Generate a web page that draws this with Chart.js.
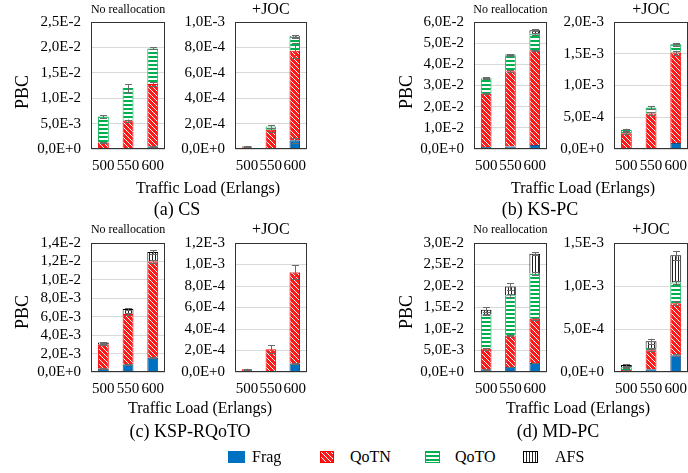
<!DOCTYPE html>
<html>
<head>
<meta charset="utf-8">
<script src="https://cdn.jsdelivr.net/npm/chart.js@4.4.0/dist/chart.umd.min.js"></script>
<style>
  html, body { margin: 0; padding: 0; background: #fff; }
  body { position: relative; width: 688px; height: 473px; overflow: hidden;
         font-family: 'Liberation Serif', 'Times New Roman', serif; color: #000; }
  .pc-box { position: absolute; }
  .pc-txt { position: absolute; white-space: nowrap; transform: translate(-50%, -50%); line-height: 1; }
  .pc-ylab { position: absolute; white-space: nowrap; font-size: 18px; line-height: 1;
             transform: translate(-50%, -50%) rotate(-90deg); }
  .pc-leg { position: absolute; white-space: nowrap; font-size: 16px; line-height: 1; transform: translateY(-50%); }
  .pc-sw { position: absolute; }
</style>
</head>
<body>
<script>
(function () {
  'use strict';

  // ── Categories ──
  var CATEGORIES = ['500', '550', '600'];

  // ── (a) CS ──
  var csNrFrag  = [0.00003, 0.0001, 0.0005];
  var csNrQoTN  = [0.00125, 0.0055, 0.0123];
  var csNrQoTO  = [0.0051, 0.0064, 0.0070];
  var csNrAFS   = [0, 0, 0];
  var csJocFrag = [0, 0.000003, 0.000068];
  var csJocQoTN = [0.000013, 0.000148, 0.000706];
  var csJocQoTO = [0.000009, 0.000026, 0.00011];
  var csJocAFS  = [0, 0, 0.000006];

  // ── (b) KS-PC ──
  var ksNrFrag  = [0.0009, 0.0012, 0.0019];
  var ksNrQoTN  = [0.0252, 0.0355, 0.0447];
  var ksNrQoTO  = [0.0072, 0.0076, 0.0078];
  var ksNrAFS   = [0.0003, 0.0003, 0.0017];
  var ksJocFrag = [0.000003, 0.000008, 0.000093];
  var ksJocQoTN = [0.000246, 0.000552, 0.001425];
  var ksJocQoTO = [0.000051, 0.000093, 0.00013];
  var ksJocAFS  = [0, 0, 0.000005];

  // ── (c) KSP-RQoTO ──
  var rqNrFrag  = [0.00036, 0.00084, 0.00156];
  var rqNrQoTN  = [0.00266, 0.00545, 0.01044];
  var rqNrQoTO  = [0, 0, 0];
  var rqNrAFS   = [0.00018, 0.00055, 0.00102];
  var rqJocFrag = [0, 0.000003, 0.000078];
  var rqJocQoTN = [0.000025, 0.000209, 0.000848];
  var rqJocQoTO = [0, 0, 0];
  var rqJocAFS  = [0, 0, 0.000004];

  // ── (d) MD-PC ──
  var mdNrFrag  = [0.00062, 0.00116, 0.0021];
  var mdNrQoTN  = [0.00478, 0.00734, 0.0103];
  var mdNrQoTO  = [0.008, 0.00933, 0.01047];
  var mdNrAFS   = [0.0011, 0.00207, 0.00463];
  var mdJocFrag = [0.000005, 0.000031, 0.000194];
  var mdJocQoTN = [0.000018, 0.000221, 0.000606];
  var mdJocQoTO = [0.000032, 0.000027, 0.00024];
  var mdJocAFS  = [0.000025, 0.000078, 0.000317];

  // ── Error bars (half-width, at top of each segment) ──
  var csNrErr  = [[0, 0, 0.0001], [0.0001, 0.0002, 0.0004], [0.0003, 0.0008, 0.0002], [0, 0, 0]];
  var csJocErr = [[0, 0, 0.00002], [0.000002, 0.000015, 0.00006], [0.000002, 0.00001, 0.00001], [0, 0, 0.000005]];
  var ksNrErr  = [[0, 0, 0], [0.0003, 0.0004, 0.0004], [0.0003, 0.0004, 0.0004], [0.0002, 0.0002, 0.0004]];
  var ksJocErr = [[0, 0, 0], [0.00002, 0.00002, 0.00003], [0.00002, 0.00002, 0.00002], [0, 0, 0.000005]];
  var rqNrErr  = [[0.00003, 0.00005, 0.00008], [0.00005, 0.0001, 0.00015], [0, 0, 0], [0.00005, 0.0001, 0.0002]];
  var rqJocErr = [[0, 0, 0.000005], [0.000005, 0.000035, 0.000065], [0, 0, 0], [0, 0, 0]];
  var mdNrErr  = [[0.0001, 0.0001, 0.0001], [0.0002, 0.0002, 0.0002], [0.0002, 0.0003, 0.0004], [0.0005, 0.0008, 0.0004]];
  var mdJocErr = [[0, 0, 0.00001], [0.000005, 0.00001, 0.00002], [0.000005, 0.000005, 0.00002], [0.00001, 0.00003, 0.00005]];

  // ── Series styling ──
  var SERIES = ['Frag', 'QoTN', 'QoTO', 'AFS'];
  var BORDERS = ['#1f4e79', '#ff0000', '#00b050', '#000000'];
  var FONT = "'Liberation Serif', 'Times New Roman', serif";

  function makePattern(kind) {
    var c = document.createElement('canvas');
    var x = c.getContext('2d');
    if (kind === 'Frag') {
      c.width = c.height = 4;
      x.fillStyle = '#0070c0';
      x.fillRect(0, 0, 4, 4);
    } else if (kind === 'QoTN') {
      c.width = c.height = 5;
      x.fillStyle = '#ff1a1a';
      x.fillRect(0, 0, 5, 5);
      x.strokeStyle = '#ffffff';
      x.lineWidth = 1;
      for (var k = -5; k <= 5; k += 5) {
        x.beginPath(); x.moveTo(k, 0); x.lineTo(k + 5, 5); x.stroke();
      }
    } else if (kind === 'QoTO') {
      c.width = c.height = 4;
      x.fillStyle = '#ffffff';
      x.fillRect(0, 0, 4, 4);
      x.fillStyle = '#00b050';
      x.fillRect(0, 0, 4, 2);
    } else {
      c.width = c.height = 3;
      x.fillStyle = '#ffffff';
      x.fillRect(0, 0, 3, 3);
      x.fillStyle = '#222222';
      x.fillRect(0, 0, 1, 3);
    }
    return x.createPattern(c, 'repeat');
  }

  var PATTERNS = SERIES.map(makePattern);

  // Excel-style scientific label, e.g. 2,5E-2
  function sci(v) {
    if (Math.abs(v) < 1e-12) return '0,0E+0';
    var e = Math.floor(Math.log10(v) + 1e-6);
    var m = v / Math.pow(10, e);
    return m.toFixed(1).replace('.', ',') + 'E' + (e < 0 ? '-' : '+') + Math.abs(e);
  }

  // ── Plugins ──
  var framePlugin = {
    id: 'pcFrame',
    afterDatasetsDraw: function (chart) {
      var a = chart.chartArea, c = chart.ctx;
      c.save();
      c.strokeStyle = '#333333';
      c.lineWidth = 1;
      c.strokeRect(Math.round(a.left) + 0.5, Math.round(a.top) + 0.5,
        Math.round(a.right - a.left) - 1, Math.round(a.bottom - a.top) - 1);
      c.restore();
    }
  };

  var titlePlugin = {
    id: 'pcTitle',
    afterDraw: function (chart, args, opts) {
      var a = chart.chartArea, c = chart.ctx;
      c.save();
      c.fillStyle = '#000';
      c.font = opts.size + 'px ' + FONT;
      c.textAlign = 'center';
      c.textBaseline = 'middle';
      c.fillText(opts.text, (a.left + a.right) / 2, a.top - opts.offset);
      c.restore();
    }
  };

  var errorPlugin = {
    id: 'pcErrors',
    afterDatasetsDraw: function (chart, args, opts) {
      var errs = opts.errors || [];
      var ys = chart.scales.y, c = chart.ctx;
      c.save();
      c.strokeStyle = '#6b6b6b';
      c.lineWidth = 1;
      for (var d = 0; d < chart.data.datasets.length; d++) {
        var meta = chart.getDatasetMeta(d);
        for (var j = 0; j < CATEGORIES.length; j++) {
          var err = errs[d] ? errs[d][j] : 0;
          if (!err) continue;
          var top = 0;
          for (var k = 0; k <= d; k++) top += chart.data.datasets[k].data[j] || 0;
          var x = Math.round(meta.data[j].x) + 0.5;
          var y1 = ys.getPixelForValue(top + err);
          var y2 = ys.getPixelForValue(Math.max(0, top - err));
          c.beginPath();
          c.moveTo(x, y1); c.lineTo(x, y2);
          c.moveTo(x - 3.5, Math.round(y1) + 0.5); c.lineTo(x + 3.5, Math.round(y1) + 0.5);
          c.moveTo(x - 3.5, Math.round(y2) + 0.5); c.lineTo(x + 3.5, Math.round(y2) + 0.5);
          c.stroke();
        }
      }
      c.restore();
    }
  };

  // ── Sub-chart layout ──
  var Y_AXIS_W = 80, X_AXIS_H = 30, PAD_TOP = 22, PAD_RIGHT = 6;

  function mountBars(p) {
    var box = document.createElement('div');
    box.className = 'pc-box';
    var W = Y_AXIS_W + p.w + PAD_RIGHT;
    var H = PAD_TOP + p.h + X_AXIS_H;
    box.style.left = (p.left - Y_AXIS_W) + 'px';
    box.style.top = (p.top - PAD_TOP) + 'px';
    box.style.width = W + 'px';
    box.style.height = H + 'px';
    var canvas = document.createElement('canvas');
    canvas.width = W; canvas.height = H;
    box.appendChild(canvas);
    document.body.appendChild(box);

    var datasets = [];
    for (var i = 0; i < SERIES.length; i++) {
      datasets.push({
        label: SERIES[i],
        data: p.series[i],
        backgroundColor: PATTERNS[i],
        borderColor: BORDERS[i],
        borderWidth: 1,
        barPercentage: 0.88,
        categoryPercentage: 0.5
      });
    }

    new Chart(canvas.getContext('2d'), {
      type: 'bar',
      data: { labels: CATEGORIES, datasets: datasets },
      plugins: [titlePlugin, errorPlugin, framePlugin],
      options: {
        responsive: false,
        animation: false,
        layout: { padding: { top: PAD_TOP, right: PAD_RIGHT, left: 0, bottom: 0 } },
        plugins: {
          legend: { display: false },
          tooltip: { enabled: false },
          pcTitle: { text: p.title, size: p.titleSize, offset: p.titleOffset },
          pcErrors: { errors: p.errors }
        },
        scales: {
          x: {
            stacked: true,
            grid: { display: false, drawTicks: false },
            border: { display: false },
            ticks: { color: '#000', font: { family: FONT, size: 15 }, padding: 8,
                     maxRotation: 0, minRotation: 0, autoSkip: false },
            afterFit: function (s) { s.height = X_AXIS_H; }
          },
          y: {
            stacked: true,
            min: 0,
            max: p.max,
            grid: { color: '#d9d9d9', drawTicks: false },
            border: { display: false },
            ticks: {
              stepSize: p.step,
              autoSkip: false,
              color: '#000',
              font: { family: FONT, size: 15 },
              padding: 10,
              callback: function (v) { return sci(v); }
            },
            afterFit: function (s) { s.width = Y_AXIS_W; }
          }
        }
      }
    });
  }

  var NR = 'No reallocation', JOC = '+JOC';
  var PANELS = [
    { left: 91,  top: 22,  w: 76, h: 127, max: 0.025,  step: 0.005,  title: NR,  titleSize: 12, titleOffset: 12,
      series: [csNrFrag, csNrQoTN, csNrQoTO, csNrAFS], errors: csNrErr },
    { left: 235, top: 22,  w: 74, h: 127, max: 0.001,  step: 0.0002, title: JOC, titleSize: 16, titleOffset: 12,
      series: [csJocFrag, csJocQoTN, csJocQoTO, csJocAFS], errors: csJocErr },
    { left: 474, top: 22,  w: 75, h: 127, max: 0.06,   step: 0.01,   title: NR,  titleSize: 12, titleOffset: 12,
      series: [ksNrFrag, ksNrQoTN, ksNrQoTO, ksNrAFS], errors: ksNrErr },
    { left: 614, top: 22,  w: 76, h: 127, max: 0.002,  step: 0.0005, title: JOC, titleSize: 16, titleOffset: 12,
      series: [ksJocFrag, ksJocQoTN, ksJocQoTO, ksJocAFS], errors: ksJocErr },
    { left: 91,  top: 243, w: 76, h: 129, max: 0.014,  step: 0.002,  title: NR,  titleSize: 12, titleOffset: 13,
      series: [rqNrFrag, rqNrQoTN, rqNrQoTO, rqNrAFS], errors: rqNrErr },
    { left: 235, top: 243, w: 74, h: 129, max: 0.0012, step: 0.0002, title: JOC, titleSize: 16, titleOffset: 13,
      series: [rqJocFrag, rqJocQoTN, rqJocQoTO, rqJocAFS], errors: rqJocErr },
    { left: 474, top: 243, w: 75, h: 129, max: 0.03,   step: 0.005,  title: NR,  titleSize: 12, titleOffset: 13,
      series: [mdNrFrag, mdNrQoTN, mdNrQoTO, mdNrAFS], errors: mdNrErr },
    { left: 614, top: 243, w: 76, h: 129, max: 0.0015, step: 0.0005, title: JOC, titleSize: 16, titleOffset: 13,
      series: [mdJocFrag, mdJocQoTN, mdJocQoTO, mdJocAFS], errors: mdJocErr }
  ];
  PANELS.forEach(mountBars);

  // ── Text labels ──
  function addText(cls, text, x, y, size) {
    var el = document.createElement('div');
    el.className = cls;
    el.textContent = text;
    el.style.left = x + 'px';
    el.style.top = y + 'px';
    if (size) el.style.fontSize = size + 'px';
    document.body.appendChild(el);
  }

  [[22, 92], [406, 92], [22, 312], [406, 312]].forEach(function (p) {
    addText('pc-ylab', 'PBC', p[0], p[1]);
  });
  addText('pc-txt', 'Traffic Load (Erlangs)', 208, 188, 16);
  addText('pc-txt', 'Traffic Load (Erlangs)', 583, 188, 16);
  addText('pc-txt', 'Traffic Load (Erlangs)', 200, 408, 16);
  addText('pc-txt', 'Traffic Load (Erlangs)', 578, 408, 16);
  addText('pc-txt', '(a) CS', 177, 209, 18);
  addText('pc-txt', '(b) KS-PC', 540, 209, 18);
  addText('pc-txt', '(c) KSP-RQoTO', 190, 431, 18);
  addText('pc-txt', '(d) MD-PC', 558, 431, 18);

  // ── Legend ──
  var LEGEND = [
    { sx: 228, sw: 17, tx: 252 },
    { sx: 320, sw: 14, tx: 350 },
    { sx: 425, sw: 15, tx: 455 },
    { sx: 523, sw: 15, tx: 555 }
  ];
  LEGEND.forEach(function (l, i) {
    var c = document.createElement('canvas');
    c.className = 'pc-sw';
    c.width = l.sw; c.height = 12;
    c.style.left = l.sx + 'px';
    c.style.top = '451px';
    var x = c.getContext('2d');
    x.fillStyle = PATTERNS[i];
    x.fillRect(0, 0, l.sw, 12);
    if (i > 0) {
      x.strokeStyle = BORDERS[i];
      x.lineWidth = 1;
      x.strokeRect(0.5, 0.5, l.sw - 1, 11);
    }
    document.body.appendChild(c);
    addText('pc-leg', SERIES[i], l.tx, 457);
  });
})();
</script>
</body>
</html>
